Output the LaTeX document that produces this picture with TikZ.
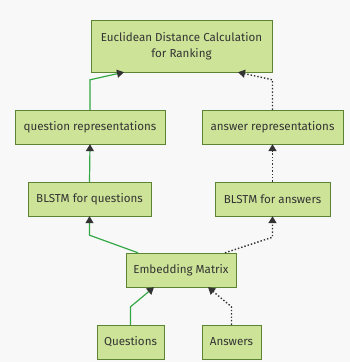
\documentclass[tikz,border=0pt]{standalone}
\usepackage{fontspec}
\setmainfont{Fira Sans}
\definecolor{boxfill}{RGB}{205,228,152}
\definecolor{boxline}{RGB}{92,132,52}
\definecolor{flowgreen}{RGB}{52,168,68}
\definecolor{inkgray}{RGB}{51,51,51}
\definecolor{paper}{RGB}{248,248,248}
\usetikzlibrary{arrows.meta,calc}

\begin{document}
\begin{tikzpicture}[x=1pt,y=1pt,font=\fontsize{11.6}{16}\selectfont,
    box/.style={draw=boxline,fill=boxfill,text=inkgray,minimum height=34pt,align=center,inner sep=0pt},
    qarr/.style={-{Triangle[length=7pt,width=8pt]},flowgreen,line width=1.2pt,arrows={[color=inkgray]}},
    aarr/.style={-{Triangle[length=7pt,width=8pt]},inkgray,line width=1.4pt,dotted}]
    \fill[paper] (0,0) rectangle (350,362);
    \useasboundingbox (0,0) rectangle (350,362);
    % boxes
    \node[box,minimum width=181pt,minimum height=52pt] (rank) at (181.5,316) {Euclidean Distance Calculation\\for Ranking};
    \node[box,minimum width=150pt] (qrep) at (90,235) {question representations};
    \node[box,minimum width=141pt] (arep) at (272.5,235) {answer representations};
    \node[box,minimum width=123pt] (qlstm) at (89.5,163) {BLSTM for questions};
    \node[box,minimum width=115pt] (alstm) at (272.5,163) {BLSTM for answers};
    \node[box,minimum width=110pt] (emb) at (181,92) {Embedding Matrix};
    \node[box,minimum width=67pt] (ques) at (130.5,20) {Questions};
    \node[box,minimum width=59pt] (ans) at (231.5,20) {Answers};
    % question path (solid)
    \draw[qarr] (ques.north) -- ++(0,18) -- ($(emb.south)+(-27,0)$);
    \draw[qarr] ($(emb.north)+(-43,0)$) -- ($(qlstm.south)+(0,-19)$) -- (qlstm.south);
    \draw[qarr] (qlstm.north) -- (qrep.south);
    \draw[qarr] (qrep.north) -- ++(0,30) -- ($(rank.south)+(-57.5,0)$);
    % answer path (dotted)
    \draw[aarr] (ans.north) -- ++(0,18) -- ($(emb.south)+(27,0)$);
    \draw[aarr] ($(emb.north)+(44,0)$) -- ($(alstm.south)+(0,-21)$) -- (alstm.south);
    \draw[aarr] (alstm.north) -- (arep.south);
    \draw[aarr] (arep.north) -- ++(0,30) -- ($(rank.south)+(56.5,0)$);
  \end{tikzpicture}
\end{document}
